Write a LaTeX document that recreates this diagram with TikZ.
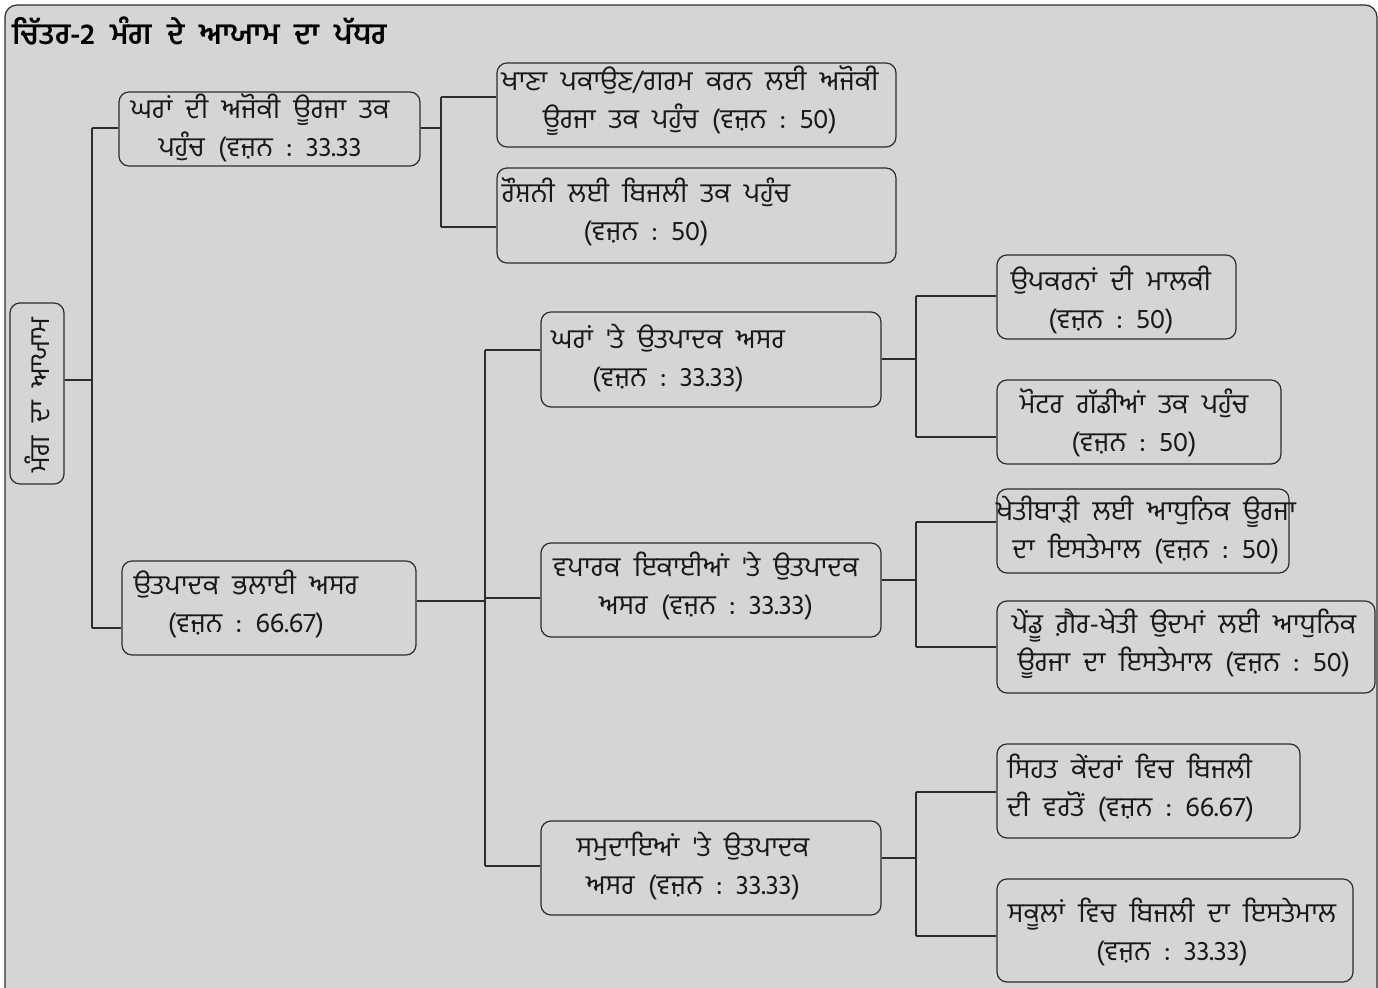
\documentclass[tikz,border=0pt]{standalone}
\usepackage{fontspec}
\newfontfamily\pa[Script=Gurmukhi]{Hind Jalandhar}
\definecolor{bg}{RGB}{212,213,215}
\definecolor{ln}{RGB}{45,45,45}
\begin{document}
\begin{tikzpicture}[x=0.5pt,y=-0.5pt,
  box/.style={draw=ln,line width=0.6pt,rounded corners=5pt,inner sep=0pt},
  lbl/.style={font=\pa\fontsize{13.7}{19}\selectfont,align=center,inner sep=0pt,text=black!90},
  wire/.style={draw=ln,line width=0.6pt}]
\useasboundingbox (0,0) rectangle (1378,988);
\draw[ln,line width=0.6pt,fill=bg,rounded corners=6pt] (5,5) rectangle (1377,1010);
\node[anchor=west,inner sep=0pt,font=\pa\bfseries\fontsize{14.8}{16}\selectfont] (title) at (12,31) {ਚਿੱਤਰ-2\ \ ਮੰਗ\ \ ਦੇ\ \ ਆਯਾਮ\ \ ਦਾ\ \ ਪੱਧਰ};
% boxes
\node[box,minimum width=27pt,minimum height=90.5pt] (root) at (37,393.5) {};
\node[box,minimum width=150.5pt,minimum height=37pt] (A) at (269.5,129) {};
\node[box,minimum width=199.5pt,minimum height=42pt] (A1) at (696.5,105) {};
\node[box,minimum width=199.5pt,minimum height=47.5pt] (A2) at (696.5,215.5) {};
\node[box,minimum width=147pt,minimum height=47pt] (B) at (269,608) {};
\node[box,minimum width=170pt,minimum height=47.5pt] (B1) at (711,359.5) {};
\node[box,minimum width=170pt,minimum height=47pt] (B2) at (711,590) {};
\node[box,minimum width=170pt,minimum height=47pt] (B3) at (711,868) {};
\node[box,minimum width=119.5pt,minimum height=42pt] (B1a) at (1116.5,297) {};
\node[box,minimum width=142pt,minimum height=42pt] (B1b) at (1139,422) {};
\node[box,minimum width=146pt,minimum height=42pt] (B2a) at (1143,531) {};
\node[box,minimum width=189pt,minimum height=46pt] (B2b) at (1186,647) {};
\node[box,minimum width=151.5pt,minimum height=47pt] (B3a) at (1148.5,791) {};
\node[box,minimum width=178pt,minimum height=51.5pt] (B3b) at (1175,930.5) {};
% labels
\node[lbl,rotate=90] (root-t) at (37,395) {ਮੰਗ\ \ ਦਾ\ \ ਆਯਾਮ};
\node[lbl] (A-t) at (260,128) {ਘਰਾਂ\ \ ਦੀ\ \ ਅਜੋਕੀ\ \ ਊਰਜਾ\ \ ਤਕ\\ ਪਹੁੰਚ\ \ (ਵਜ਼ਨ\ \ :\ \ 33.33};
\node[lbl] (A1-t) at (690,101) {ਖਾਣਾ\ \ ਪਕਾਉਣ/ਗਰਮ\ \ ਕਰਨ\ \ ਲਈ\ \ ਅਜੋਕੀ\\ ਊਰਜਾ\ \ ਤਕ\ \ ਪਹੁੰਚ\ \ (ਵਜ਼ਨ\ \ :\ \ 50)};
\node[lbl] (A2-t) at (646,212) {ਰੌਸ਼ਨੀ\ \ ਲਈ\ \ ਬਿਜਲੀ\ \ ਤਕ\ \ ਪਹੁੰਚ\\ (ਵਜ਼ਨ\ \ :\ \ 50)};
\node[lbl] (B-t) at (246,604) {ਉਤਪਾਦਕ\ \ ਭਲਾਈ\ \ ਅਸਰ\\ (ਵਜ਼ਨ\ \ :\ \ 66.67)};
\node[lbl] (B1-t) at (668,358) {ਘਰਾਂ\ \ 'ਤੇ\ \ ਉਤਪਾਦਕ\ \ ਅਸਰ\\ (ਵਜ਼ਨ\ \ :\ \ 33.33)};
\node[lbl] (B2-t) at (706,586) {ਵਪਾਰਕ\ \ ਇਕਾਈਆਂ\ \ 'ਤੇ\ \ ਉਤਪਾਦਕ\\ ਅਸਰ\ \ (ਵਜ਼ਨ\ \ :\ \ 33.33)};
\node[lbl] (B3-t) at (693,866) {ਸਮੁਦਾਇਆਂ\ \ 'ਤੇ\ \ ਉਤਪਾਦਕ\\ ਅਸਰ\ \ (ਵਜ਼ਨ\ \ :\ \ 33.33)};
\node[lbl] (B1a-t) at (1111,300) {ਉਪਕਰਨਾਂ\ \ ਦੀ\ \ ਮਾਲਕੀ\\ (ਵਜ਼ਨ\ \ :\ \ 50)};
\node[lbl] (B1b-t) at (1134,423) {ਮੋਟਰ\ \ ਗੱਡੀਆਂ\ \ ਤਕ\ \ ਪਹੁੰਚ\\ (ਵਜ਼ਨ\ \ :\ \ 50)};
\node[lbl] (B2a-t) at (1146,530) {ਖੇਤੀਬਾੜੀ\ \ ਲਈ\ \ ਆਧੁਨਿਕ\ \ ਊਰਜਾ\\ ਦਾ\ \ ਇਸਤੇਮਾਲ\ \ (ਵਜ਼ਨ\ \ :\ \ 50)};
\node[lbl] (B2b-t) at (1184,644) {ਪੇਂਡੂ\ \ ਗ਼ੈਰ-ਖੇਤੀ\ \ ਉਦਮਾਂ\ \ ਲਈ\ \ ਆਧੁਨਿਕ\\ ਊਰਜਾ\ \ ਦਾ\ \ ਇਸਤੇਮਾਲ\ \ (ਵਜ਼ਨ\ \ :\ \ 50)};
\node[lbl,align=left,anchor=west] (B3a-t) at (1007,788) {ਸਿਹਤ\ \ ਕੇਂਦਰਾਂ\ \ ਵਿਚ\ \ ਬਿਜਲੀ\\ ਦੀ\ \ ਵਰਤੋਂ\ \ (ਵਜ਼ਨ\ \ :\ \ 66.67)};
\node[lbl] (B3b-t) at (1172,932) {ਸਕੂਲਾਂ\ \ ਵਿਚ\ \ ਬਿਜਲੀ\ \ ਦਾ\ \ ਇਸਤੇਮਾਲ\\ (ਵਜ਼ਨ\ \ :\ \ 33.33)};
% junctions
\coordinate (j0) at (92,380); \coordinate (jA) at (92,128); \coordinate (jB) at (92,628);
\coordinate (k0) at (441,128); \coordinate (kA1) at (441,97); \coordinate (kA2) at (441,227);
\coordinate (m0) at (485,601); \coordinate (mB1) at (485,350); \coordinate (mB2) at (485,598); \coordinate (mB3) at (485,866);
\coordinate (n0) at (916,359); \coordinate (n1) at (916,296); \coordinate (n2) at (916,437);
\coordinate (p0) at (916,580); \coordinate (p1) at (916,522); \coordinate (p2) at (916,647);
\coordinate (q0) at (916,858); \coordinate (q1) at (916,792); \coordinate (q2) at (916,936);
% connectors
\draw[wire] (root.east |- j0) -- (j0);
\draw[wire] (jA) -- (jB);
\draw[wire] (jA) -- (A.west |- jA);
\draw[wire] (jB) -- (B.west |- jB);
\draw[wire] (A.east |- k0) -- (k0);
\draw[wire] (kA1) -- (kA2);
\draw[wire] (kA1) -- (A1.west |- kA1);
\draw[wire] (kA2) -- (A2.west |- kA2);
\draw[wire] (B.east |- m0) -- (m0);
\draw[wire] (mB1) -- (mB3);
\draw[wire] (mB1) -- (B1.west |- mB1);
\draw[wire] (mB2) -- (B2.west |- mB2);
\draw[wire] (mB3) -- (B3.west |- mB3);
\draw[wire] (B1.east |- n0) -- (n0);
\draw[wire] (n1) -- (n2);
\draw[wire] (n1) -- (B1a.west |- n1);
\draw[wire] (n2) -- (B1b.west |- n2);
\draw[wire] (B2.east |- p0) -- (p0);
\draw[wire] (p1) -- (p2);
\draw[wire] (p1) -- (B2a.west |- p1);
\draw[wire] (p2) -- (B2b.west |- p2);
\draw[wire] (B3.east |- q0) -- (q0);
\draw[wire] (q1) -- (q2);
\draw[wire] (q1) -- (B3a.west |- q1);
\draw[wire] (q2) -- (B3b.west |- q2);
\end{tikzpicture}
\end{document}
